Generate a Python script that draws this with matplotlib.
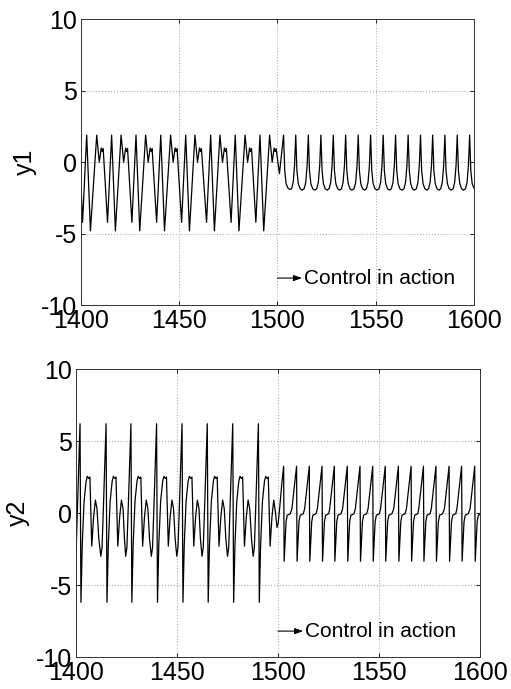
import numpy as np
import matplotlib
matplotlib.use("Agg")
import matplotlib.pyplot as plt

# ---------------------------------------------------------------------------
# y1: key points (time, value)
# ---------------------------------------------------------------------------
y1_pre_t = [
    1400.0, 1400.8,
    1402.9, 1404.8, 1408.0, 1409.3, 1410.3, 1410.8, 1411.3, 1413.5,
    1415.6, 1417.5, 1420.4, 1421.7, 1422.7, 1423.2, 1423.7, 1425.9,
    1428.0, 1429.9, 1432.9, 1434.2, 1435.2, 1435.7, 1436.2, 1438.5,
    1440.6, 1442.5, 1445.6, 1446.9, 1447.9, 1448.4, 1448.9, 1451.2,
    1453.3, 1455.2, 1458.0, 1459.3, 1460.3, 1460.8, 1461.3, 1463.9,
    1466.0, 1467.9, 1470.7, 1472.0, 1473.0, 1473.5, 1474.0, 1476.4,
    1478.5, 1480.4, 1483.5, 1484.8, 1485.8, 1486.3, 1486.8, 1489.0,
    1491.1, 1493.0, 1496.0, 1497.3, 1498.3, 1498.8, 1499.3, 1501.0,
]
y1_pre_v = [
    -1.6, -4.2,
    1.9, -4.8, 1.9, 0.0, 1.0, 0.75, 0.95, -4.2,
    1.9, -4.8, 1.9, 0.0, 1.0, 0.75, 0.95, -4.2,
    1.9, -4.8, 1.9, 0.0, 1.0, 0.75, 0.95, -4.2,
    1.9, -4.8, 1.9, 0.0, 1.0, 0.75, 0.95, -4.2,
    1.9, -4.8, 1.9, 0.0, 1.0, 0.75, 0.95, -4.2,
    1.9, -4.8, 1.9, 0.0, 1.0, 0.75, 0.95, -4.2,
    1.9, -4.8, 1.9, 0.0, 1.0, 0.75, 0.95, -4.2,
    1.9, -4.8, 1.9, 0.0, 1.0, 0.75, 0.95, -0.8,
]
y1_post_t = [
    1503.1, 1503.7, 1504.4, 1505.3, 1506.3, 1507.2, 1508.0, 1508.7,
    1509.3, 1509.9, 1510.6, 1511.5, 1512.5, 1513.6, 1514.4, 1515.1,
    1515.7, 1516.3, 1517.0, 1517.9, 1518.9, 1520.0, 1520.8, 1521.5,
    1522.1, 1522.7, 1523.4, 1524.3, 1525.3, 1526.3, 1527.1, 1527.8,
    1528.4, 1529.0, 1529.7, 1530.6, 1531.6, 1532.6, 1533.4, 1534.1,
    1534.7, 1535.3, 1536.0, 1536.9, 1537.9, 1539.0, 1539.8, 1540.5,
    1541.1, 1541.7, 1542.4, 1543.3, 1544.3, 1545.3, 1546.1, 1546.8,
    1547.4, 1548.0, 1548.7, 1549.6, 1550.6, 1551.7, 1552.5, 1553.2,
    1553.8, 1554.4, 1555.1, 1556.0, 1557.0, 1558.0, 1558.8, 1559.5,
    1560.1, 1560.7, 1561.4, 1562.3, 1563.3, 1564.4, 1565.2, 1565.9,
    1566.5, 1567.1, 1567.8, 1568.7, 1569.7, 1570.7, 1571.5, 1572.2,
    1572.8, 1573.4, 1574.1, 1575.0, 1576.0, 1576.9, 1577.7, 1578.4,
    1579.0, 1579.6, 1580.3, 1581.2, 1582.2, 1583.1, 1583.9, 1584.6,
    1585.2, 1585.8, 1586.5, 1587.4, 1588.4, 1589.4, 1590.2, 1590.9,
    1591.5, 1592.1, 1592.8, 1593.7, 1594.7, 1595.7, 1596.5, 1597.2,
    1597.8, 1598.4, 1599.1, 1600.0,
]
y1_post_v = [
    1.9, -0.6, -1.5, -1.8, -1.9, -1.85, -1.4, -0.2,
    1.9, -0.6, -1.5, -1.85, -1.95, -1.85, -1.4, -0.2,
    1.9, -0.6, -1.5, -1.85, -1.95, -1.85, -1.4, -0.2,
    1.9, -0.6, -1.5, -1.85, -1.95, -1.85, -1.4, -0.2,
    1.9, -0.6, -1.5, -1.85, -1.95, -1.85, -1.4, -0.2,
    1.9, -0.6, -1.5, -1.85, -1.95, -1.85, -1.4, -0.2,
    1.9, -0.6, -1.5, -1.85, -1.95, -1.85, -1.4, -0.2,
    1.9, -0.6, -1.5, -1.85, -1.95, -1.85, -1.4, -0.2,
    1.9, -0.6, -1.5, -1.85, -1.95, -1.85, -1.4, -0.2,
    1.9, -0.6, -1.5, -1.85, -1.95, -1.85, -1.4, -0.2,
    1.9, -0.6, -1.5, -1.85, -1.95, -1.85, -1.4, -0.2,
    1.9, -0.6, -1.5, -1.85, -1.95, -1.85, -1.4, -0.2,
    1.9, -0.6, -1.5, -1.85, -1.95, -1.85, -1.4, -0.2,
    1.9, -0.6, -1.5, -1.85, -1.95, -1.85, -1.4, -0.2,
    1.9, -0.6, -1.5, -1.85, -1.95, -1.85, -1.4, -0.2,
    1.9, -0.6, -1.5, -1.8,
]

# ---------------------------------------------------------------------------
# y2: key points (time, value)
# ---------------------------------------------------------------------------
y2_pre_t = [
    1400.0,
    1402.0, 1402.45, 1403.1, 1404.0, 1405.0, 1405.6, 1406.3, 1406.9,
    1407.8, 1408.7, 1409.6, 1410.4, 1411.3, 1412.3, 1412.9, 1413.6,
    1414.9, 1415.35, 1416.0, 1416.9, 1417.9, 1418.5, 1419.2, 1419.8,
    1420.7, 1421.6, 1422.5, 1423.3, 1424.0, 1424.6, 1425.2, 1425.9,
    1427.2, 1427.65, 1428.3, 1429.2, 1430.2, 1430.8, 1431.5, 1432.1,
    1433.0, 1433.9, 1434.8, 1435.6, 1436.4, 1437.3, 1437.9, 1438.6,
    1439.9, 1440.35, 1441.0, 1441.9, 1442.9, 1443.5, 1444.2, 1444.8,
    1445.7, 1446.6, 1447.5, 1448.3, 1449.1, 1449.9, 1450.5, 1451.2,
    1452.5, 1452.95, 1453.6, 1454.5, 1455.5, 1456.1, 1456.8, 1457.4,
    1458.3, 1459.2, 1460.1, 1460.9, 1461.6, 1462.4, 1463.0, 1463.7,
    1465.0, 1465.45, 1466.1, 1467.0, 1468.0, 1468.6, 1469.3, 1469.9,
    1470.8, 1471.7, 1472.6, 1473.4, 1474.2, 1475.0, 1475.6, 1476.3,
    1477.6, 1478.05, 1478.7, 1479.6, 1480.6, 1481.2, 1481.9, 1482.5,
    1483.4, 1484.3, 1485.2, 1486.0, 1486.9, 1487.7, 1488.3, 1489.0,
    1490.3, 1490.75, 1491.4, 1492.3, 1493.3, 1493.9, 1494.6, 1495.2,
    1496.1, 1497.0, 1497.9, 1498.7, 1499.5, 1500.1, 1501.0, 1502.0,
]
y2_pre_v = [
    -3.0,
    6.2, -6.2, -2.2, 0.8, 2.2, 2.55, 2.4, 2.5,
    -2.3, -0.3, 0.9, 0.3, -1.8, -3.0, -2.4, 0.5,
    6.2, -6.2, -2.2, 0.8, 2.2, 2.55, 2.4, 2.5,
    -2.3, -0.3, 0.9, 0.3, -1.8, -3.0, -2.4, 0.5,
    6.2, -6.2, -2.2, 0.8, 2.2, 2.55, 2.4, 2.5,
    -2.3, -0.3, 0.9, 0.3, -1.8, -3.0, -2.4, 0.5,
    6.2, -6.2, -2.2, 0.8, 2.2, 2.55, 2.4, 2.5,
    -2.3, -0.3, 0.9, 0.3, -1.8, -3.0, -2.4, 0.5,
    6.2, -6.2, -2.2, 0.8, 2.2, 2.55, 2.4, 2.5,
    -2.3, -0.3, 0.9, 0.3, -1.8, -3.0, -2.4, 0.5,
    6.2, -6.2, -2.2, 0.8, 2.2, 2.55, 2.4, 2.5,
    -2.3, -0.3, 0.9, 0.3, -1.8, -3.0, -2.4, 0.5,
    6.2, -6.2, -2.2, 0.8, 2.2, 2.55, 2.4, 2.5,
    -2.3, -0.3, 0.9, 0.3, -1.8, -3.0, -2.4, 0.5,
    6.2, -6.2, -2.2, 0.8, 2.2, 2.55, 2.4, 2.5,
    -2.3, -0.3, 0.9, 0.1, -1.0, -0.7, 0.6, 2.2,
]
y2_post_t = [
    1502.8, 1503.05, 1503.5, 1504.0, 1504.6, 1506.1, 1506.9, 1507.9,
    1509.2, 1509.45, 1509.9, 1510.4, 1511.0, 1512.5, 1513.2, 1514.2,
    1515.5, 1515.75, 1516.2, 1516.7, 1517.3, 1518.8, 1519.5, 1520.5,
    1521.8, 1522.05, 1522.5, 1523.0, 1523.6, 1525.1, 1525.6, 1526.6,
    1527.9, 1528.15, 1528.6, 1529.1, 1529.7, 1531.2, 1532.0, 1533.0,
    1534.3, 1534.55, 1535.0, 1535.5, 1536.1, 1537.6, 1538.3, 1539.3,
    1540.6, 1540.85, 1541.3, 1541.8, 1542.4, 1543.9, 1544.6, 1545.6,
    1546.9, 1547.15, 1547.6, 1548.1, 1548.7, 1550.2, 1550.8, 1551.8,
    1553.1, 1553.35, 1553.8, 1554.3, 1554.9, 1556.4, 1557.3, 1558.3,
    1559.6, 1559.85, 1560.3, 1560.8, 1561.4, 1562.9, 1563.6, 1564.6,
    1565.9, 1566.15, 1566.6, 1567.1, 1567.7, 1569.2, 1569.7, 1570.7,
    1572.0, 1572.25, 1572.7, 1573.2, 1573.8, 1575.3, 1575.9, 1576.9,
    1578.2, 1578.45, 1578.9, 1579.4, 1580.0, 1581.5, 1582.4, 1583.4,
    1584.7, 1584.95, 1585.4, 1585.9, 1586.5, 1588.0, 1588.6, 1589.6,
    1590.9, 1591.15, 1591.6, 1592.1, 1592.7, 1594.2, 1595.1, 1596.1,
    1597.4, 1597.65, 1598.1, 1598.6, 1599.2, 1600.0,
]
y2_post_v = [
    3.25, -3.35, -2.0, -0.6, -0.15, -0.05, 0.3, 1.6,
    3.25, -3.35, -2.0, -0.6, -0.15, -0.05, 0.3, 1.6,
    3.25, -3.35, -2.0, -0.6, -0.15, -0.05, 0.3, 1.6,
    3.25, -3.35, -2.0, -0.6, -0.15, -0.05, 0.3, 1.6,
    3.25, -3.35, -2.0, -0.6, -0.15, -0.05, 0.3, 1.6,
    3.25, -3.35, -2.0, -0.6, -0.15, -0.05, 0.3, 1.6,
    3.25, -3.35, -2.0, -0.6, -0.15, -0.05, 0.3, 1.6,
    3.25, -3.35, -2.0, -0.6, -0.15, -0.05, 0.3, 1.6,
    3.25, -3.35, -2.0, -0.6, -0.15, -0.05, 0.3, 1.6,
    3.25, -3.35, -2.0, -0.6, -0.15, -0.05, 0.3, 1.6,
    3.25, -3.35, -2.0, -0.6, -0.15, -0.05, 0.3, 1.6,
    3.25, -3.35, -2.0, -0.6, -0.15, -0.05, 0.3, 1.6,
    3.25, -3.35, -2.0, -0.6, -0.15, -0.05, 0.3, 1.6,
    3.25, -3.35, -2.0, -0.6, -0.15, -0.05, 0.3, 1.6,
    3.25, -3.35, -2.0, -0.6, -0.15, -0.05, 0.3, 1.6,
    3.25, -3.35, -2.0, -0.6, -0.15, -0.1,
]

x_ticks = [1400, 1450, 1500, 1550, 1600]
y_ticks = [-10, -5, 0, 5, 10]
control_start = 1500
annotation = "Control in action"

plt.rcParams["font.family"] = ["Liberation Sans", "DejaVu Sans"]
plt.rcParams["axes.unicode_minus"] = False


def _panel(ax, t, v, ylabel, arrow_y, label_x):
    ax.plot(t, v, color="black", linewidth=0.9)
    ax.set_xlim(x_ticks[0], x_ticks[-1])
    ax.set_ylim(y_ticks[0], y_ticks[-1])
    ax.set_xticks(x_ticks)
    ax.set_yticks(y_ticks)
    ax.grid(True, linestyle=":", color="#b0b0b0", linewidth=0.8)
    ax.tick_params(direction="in", top=True, right=True, length=3,
                   labelsize=18, pad=3, width=0.6)
    for s in ax.spines.values():
        s.set_linewidth(0.7)
        s.set_color("#333333")
    ax.set_ylabel(ylabel, fontsize=18)
    ax.yaxis.set_label_coords(label_x, 0.5)
    ax.annotate("", xy=(control_start + 12.5, arrow_y),
                xytext=(control_start, arrow_y),
                arrowprops=dict(arrowstyle="-|>,head_length=0.5,head_width=0.18",
                                color="black", lw=0.8, shrinkA=0, shrinkB=0))
    ax.text(control_start + 13.3, arrow_y, annotation, fontsize=15,
            va="center", ha="left")


fig = plt.figure(figsize=(5.11, 6.89), dpi=100)
ax1 = fig.add_axes([0.1585, 0.557, 0.769, 0.415])
ax2 = fig.add_axes([0.1487, 0.0464, 0.7906, 0.418])

_panel(ax1, np.array(y1_pre_t + y1_post_t), np.array(y1_pre_v + y1_post_v),
       "y1", -8.1, -0.112)
_panel(ax2, np.array(y2_pre_t + y2_post_t), np.array(y2_pre_v + y2_post_v),
       "y2", -8.2, -0.114)

fig.savefig("out.png", dpi=100)
